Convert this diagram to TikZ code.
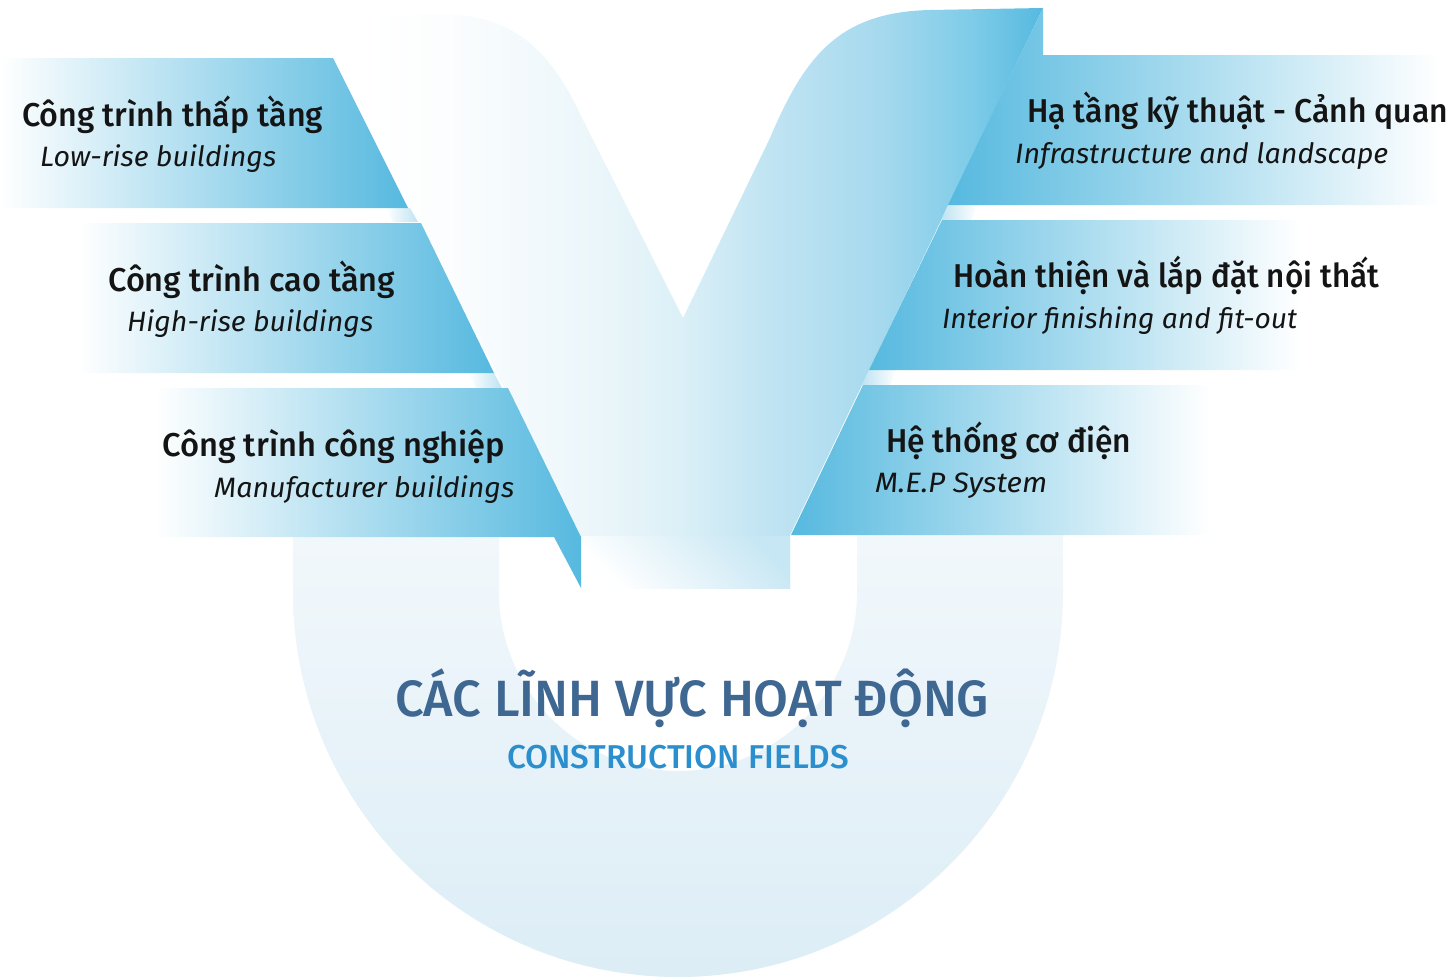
\documentclass[tikz,border=0pt]{standalone}
\usepackage{fontspec}
\usepackage{graphicx}
\setmainfont{Fira Sans}
\IfFontExistsTF{Fira Sans Medium}{\newfontfamily\medfont{Fira Sans Medium}}{\newfontfamily\medfont{Fira Sans}[FakeBold=1.2]}
\definecolor{rib}{HTML}{56B9DF}
\definecolor{ribmid}{HTML}{D3EBF5}
\definecolor{vstub}{HTML}{C8E7F4}
\definecolor{utop}{HTML}{F8FBFD}
\definecolor{ubot}{HTML}{DCEDF6}
\definecolor{fold}{HTML}{BFE3F2}
\definecolor{titleblue}{HTML}{3E6791}
\definecolor{subblue}{HTML}{2B8FCD}
\definecolor{ink}{HTML}{141414}
\definecolor{va}{HTML}{FBFDFE}
\definecolor{vb}{HTML}{EBF6FA}
\definecolor{vc}{HTML}{DCF0F7}
\definecolor{vd}{HTML}{C3E5F3}
\definecolor{ve}{HTML}{A6D9EE}
\definecolor{vf}{HTML}{7CCBE8}
\pgfdeclarehorizontalshading{vshade}{100bp}{color(0bp)=(white); color(25bp)=(white);
  color(31bp)=(va); color(42bp)=(vb); color(48bp)=(vc); color(54bp)=(vd);
  color(63bp)=(ve); color(70bp)=(vf); color(75bp)=(rib); color(100bp)=(rib)}
\newcommand{\fitw}[2]{\resizebox{#1}{\height}{#2}}
\newcommand{\ttlfont}{\medfont\fontsize{33}{40}\selectfont}
\newcommand{\subfont}{\itshape\fontsize{28}{34}\selectfont}
\begin{document}
\begin{tikzpicture}[x=1pt,y=-1pt,
  lbl/.style={inner sep=0pt, anchor=base west, text=ink},
  ttl/.style={lbl, font=\ttlfont},
  sub/.style={lbl, font=\subfont},
  lrib/.style={left color=white, middle color=ribmid, right color=rib},
  rrib/.style={left color=rib, middle color=ribmid, right color=white},
  lfold/.style={left color=white, right color=fold},
  rfold/.style={left color=fold, right color=white}]
\useasboundingbox (0,0) rectangle (1454,980);

% big U background
\path[even odd rule, top color=utop, bottom color=ubot]
  (293,400) -- (293,592) arc[start angle=180, end angle=0, radius=385] -- (1063,400) -- cycle
  (499,400) -- (499,592) arc[start angle=180, end angle=0, radius=179] -- (857,400) -- cycle;

% the V
\path[shading=vshade, shading angle=0]
  (368,15) -- (450,15) .. controls (525,15) and (560,70) .. (582,118)
  -- (683,318) -- (770,138) .. controls (805,55) and (840,12) .. (930,10)
  -- (1043,8) -- (790,535) -- (790,588) -- (581,588) -- (581,537)
  -- (370,128) -- cycle;
% bottom stub of the V
\path[top color=vstub, bottom color=white, shading angle=-45]
  (581,536) -- (790,536) -- (790,588) -- (581,588) -- cycle;

% folds in the gaps
\path[lfold] (386,208) -- (410,208) -- (418,222) -- (393,222) -- cycle;
\path[lfold] (468,373) -- (494,373) -- (502,388) -- (476,388) -- cycle;
\path[rfold] (948,205) -- (978,205) -- (971,220) -- (941,220) -- cycle;
\path[rfold] (869,370) -- (897,370) -- (890,385) -- (862,385) -- cycle;

% left ribbons
\path[lrib] (0,58) -- (333,58) -- (408,208) -- (0,208) -- cycle;
\path[lrib] (78,223) -- (421,223) -- (494,373) -- (78,373) -- cycle;
\path[lrib] (155,388) -- (508,388) -- (581,537) -- (581,588) -- (554,537) -- (155,537) -- cycle;

% right ribbons
\path[rrib] (1043,8) -- (1043,55) -- (1440,55) -- (1440,205) -- (948,205) -- cycle;
\path[rrib] (942,220) -- (1300,220) -- (1300,370) -- (869,370) -- cycle;
\path[rrib] (863,385) -- (1210,385) -- (1210,535) -- (791,535) -- cycle;

% labels, left
\node[ttl] (l1t) at (22,126) {\fitw{301pt}{Công trình thấp tầng}};
\node[sub] (l1s) at (40,166) {\fitw{236pt}{Low-rise buildings}};
\node[ttl] (l2t) at (108,291) {\fitw{287pt}{Công trình cao tầng}};
\node[sub] (l2s) at (127,331) {\fitw{246pt}{High-rise buildings}};
\node[ttl] (l3t) at (162,456) {\fitw{343pt}{Công trình công nghiệp}};
\node[sub] (l3s) at (214,497) {\fitw{300pt}{Manufacturer buildings}};

% labels, right
\node[ttl] (r1t) at (1027,122) {\fitw{421pt}{Hạ tầng kỹ thuật - Cảnh quan}};
\node[sub] (r1s) at (1015,163) {\fitw{373pt}{Infrastructure and landscape}};
\node[ttl] (r2t) at (953,287) {\fitw{426pt}{Hoàn thiện và lắp đặt nội thất}};
\node[sub] (r2s) at (942,328) {\fitw{355pt}{Interior finishing and fit-out}};
\node[ttl] (r3t) at (886,452) {\fitw{245pt}{Hệ thống cơ điện}};
\node[sub] (r3s) at (875,492) {\fitw{172pt}{M.E.P System}};

% centre title
\node[inner sep=0pt, anchor=base west, text=titleblue,
      font=\medfont\fontsize{51}{60}\selectfont] (title) at (395,716)
      {\fitw{594pt}{CÁC LĨNH VỰC HOẠT ĐỘNG}};
\node[inner sep=0pt, anchor=base west, text=subblue,
      font=\medfont\fontsize{33}{40}\selectfont] (subtitle) at (507,768)
      {\fitw{342pt}{CONSTRUCTION FIELDS}};
\end{tikzpicture}
\end{document}
